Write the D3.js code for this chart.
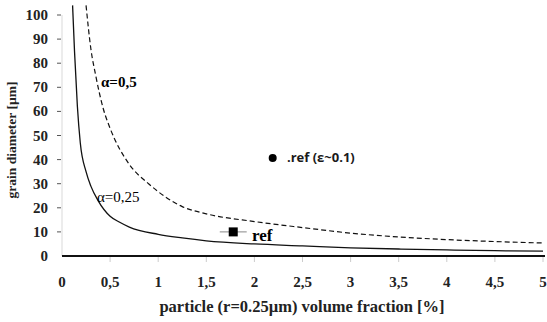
<!DOCTYPE html>
<html>
<head>
<meta charset="utf-8">
<script src="https://cdn.jsdelivr.net/npm/d3@7"></script>
<style>
  body { margin: 0; background: #fff; }
</style>
</head>
<body>
<div id="chart"></div>
<script>
// values
var fractions05 = [0.25, 0.3, 0.35, 0.43, 0.5, 0.7, 0.9, 1.25, 1.5, 2, 2.5, 3, 3.5, 4, 4.5, 5];
var diam05 = [104, 86, 75, 61, 53, 38, 30, 20.5, 17.5, 14.3, 11.8, 9.5, 7.9, 6.8, 6, 5.4];
var fractions025 = [0.11, 0.13, 0.16, 0.19, 0.25, 0.3, 0.375, 0.5, 0.6, 0.7, 1, 1.25, 1.5, 2, 2.5, 3, 3.5, 4, 4.5, 5];
var diam025 = [104, 85, 62, 47, 35, 29, 23, 16.5, 14, 12, 9, 7.5, 6.3, 5, 4.2, 3.4, 2.9, 2.5, 2.2, 2];
var refPoint = { f: 1.78, d: 10, err: 0.14 };
var refEps = { f: 2.19, d: 40.7 };
var xTicks = [0, 0.5, 1, 1.5, 2, 2.5, 3, 3.5, 4, 4.5, 5];
var yTicks = [0, 10, 20, 30, 40, 50, 60, 70, 80, 90, 100];

var width = 547, height = 322;
var margin = { left: 62, right: 4, top: 15, bottom: 66 };
var serif = '"Liberation Serif", "Times New Roman", "DejaVu Serif", serif';

var svg = d3.select('#chart').append('svg')
  .attr('width', width)
  .attr('height', height);

var x = d3.scaleLinear().domain([0, 5]).range([margin.left, width - margin.right]);
var y = d3.scaleLinear().domain([0, 100]).range([height - margin.bottom, margin.top]);

var fmt = function(v) { return String(v).replace('.', ','); };

// y axis: light line, dark ticks
svg.append('line')
  .attr('x1', x(0)).attr('x2', x(0))
  .attr('y1', y(100)).attr('y2', y(0))
  .attr('stroke', '#d9d9d9').attr('stroke-width', 1);

svg.selectAll('.ytick').data(yTicks.slice(1)).enter()
  .append('line')
  .attr('x1', x(0) - 5).attr('x2', x(0) - 1)
  .attr('y1', function(d) { return y(d); })
  .attr('y2', function(d) { return y(d); })
  .attr('stroke', '#555').attr('stroke-width', 1);

svg.selectAll('.ylab').data(yTicks).enter()
  .append('text')
  .attr('x', 48)
  .attr('y', function(d) { return y(d) + 5; })
  .attr('text-anchor', 'end')
  .attr('font-family', serif)
  .attr('font-size', 15)
  .attr('font-weight', 'bold')
  .attr('fill', '#222')
  .text(function(d) { return d; });

// x ticks (light) and labels
svg.selectAll('.xtick').data(xTicks.slice(1)).enter()
  .append('line')
  .attr('x1', function(d) { return x(d); })
  .attr('x2', function(d) { return x(d); })
  .attr('y1', y(0)).attr('y2', y(0) + 6)
  .attr('stroke', '#ccc').attr('stroke-width', 1);

svg.selectAll('.xlab').data(xTicks).enter()
  .append('text')
  .attr('x', function(d) { return x(d); })
  .attr('y', 287)
  .attr('text-anchor', 'middle')
  .attr('font-family', serif)
  .attr('font-size', 15)
  .attr('font-weight', 'bold')
  .attr('fill', '#222')
  .text(function(d) { return fmt(d); });

// curves
var line = d3.line()
  .x(function(d) { return x(d[0]); })
  .y(function(d) { return y(d[1]); })
  .curve(d3.curveMonotoneX);

svg.append('path')
  .datum(d3.zip(fractions025, diam025))
  .attr('d', line)
  .attr('fill', 'none')
  .attr('stroke', '#111')
  .attr('stroke-width', 1.3);

svg.append('path')
  .datum(d3.zip(fractions05, diam05))
  .attr('d', line)
  .attr('fill', 'none')
  .attr('stroke', '#111')
  .attr('stroke-width', 1.2)
  .attr('stroke-dasharray', '5,3');

// x axis line
svg.append('line')
  .attr('x1', x(0)).attr('x2', width - 2)
  .attr('y1', y(0)).attr('y2', y(0))
  .attr('stroke', '#111').attr('stroke-width', 2);

// ref point with error bar
svg.append('line')
  .attr('x1', x(refPoint.f - refPoint.err)).attr('x2', x(refPoint.f + refPoint.err))
  .attr('y1', y(refPoint.d)).attr('y2', y(refPoint.d))
  .attr('stroke', '#888').attr('stroke-width', 1);

svg.append('rect')
  .attr('x', x(refPoint.f) - 4.5).attr('y', y(refPoint.d) - 4.5)
  .attr('width', 9).attr('height', 9)
  .attr('fill', '#000');

svg.append('circle')
  .attr('cx', x(refEps.f)).attr('cy', y(refEps.d))
  .attr('r', 4)
  .attr('fill', '#000');

// annotations
svg.append('text')
  .attr('x', 101).attr('y', 87)
  .attr('font-family', serif)
  .attr('font-size', 15).attr('font-weight', 'bold')
  .text('α=0,5');

svg.append('text')
  .attr('x', 97).attr('y', 202)
  .attr('font-family', serif)
  .attr('font-size', 15)
  .text('α=0,25');

svg.append('text')
  .attr('x', 252).attr('y', 241)
  .attr('font-family', serif)
  .attr('font-size', 17).attr('font-weight', 'bold')
  .text('ref');

svg.append('text')
  .attr('x', 287).attr('y', 162)
  .attr('font-family', '"Open Sans", "DejaVu Sans", sans-serif')
  .attr('font-size', 13).attr('font-weight', 'bold')
  .attr('fill', '#1a1a1a')
  .text('.ref (ε~0.1)');

// axis titles
svg.append('text')
  .attr('x', (157 + 447) / 2).attr('y', 312)
  .attr('text-anchor', 'middle')
  .attr('font-family', serif)
  .attr('font-size', 16.5).attr('font-weight', 'bold')
  .attr('fill', '#222')
  .text('particle (r=0.25µm) volume fraction [%]');

svg.append('text')
  .attr('transform', 'translate(16,140) rotate(-90)')
  .attr('text-anchor', 'middle')
  .attr('font-family', serif)
  .attr('font-size', 13.5).attr('font-weight', 'bold')
  .attr('fill', '#222')
  .text('grain diameter [µm]');
</script>
</body>
</html>
